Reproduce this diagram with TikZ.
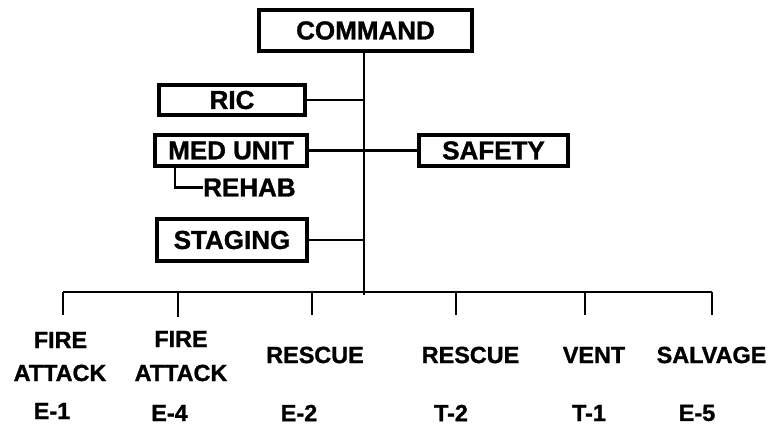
\documentclass[tikz,border=0pt]{standalone}
\usepackage{fontspec}
\setmainfont{Liberation Sans}
\newfontfamily\heavyface[FakeBold=1.2]{Liberation Sans Bold}
\begin{document}
\begin{tikzpicture}[x=1pt,y=-1pt,
  unitbox/.style={draw,line width=4pt,inner sep=0pt,
    font=\heavyface\fontsize{26}{30}\selectfont},
  link/.style={line width=2.4pt},
  crew/.style={inner sep=0pt,font=\heavyface\fontsize{23.4}{28}\selectfont},
  side/.style={inner sep=0pt,font=\heavyface\fontsize{26}{30}\selectfont}]
\useasboundingbox (0,0) rectangle (773,426);

% command staff boxes
\node[unitbox,minimum width=213pt,minimum height=41pt] (cmd) at (365.5,30.5) {COMMAND};
\node[unitbox,minimum width=146pt,minimum height=30pt] (ric) at (232,100) {RIC};
\node[unitbox,minimum width=152pt,minimum height=31pt] (med) at (231,150.5) {MED UNIT};
\node[unitbox,minimum width=149pt,minimum height=31pt] (safe) at (493.5,150.5) {SAFETY};
\node[unitbox,minimum width=150pt,minimum height=42pt] (stag) at (232,240) {STAGING};
\node[side,anchor=west] (rehab) at (203,187.5) {REHAB};

% trunk and branch points
\coordinate (tbot) at (364,295);
\coordinate (busL) at (63,292);
\coordinate (busR) at (712,292);
\draw[link] (cmd.south -| tbot) -- (tbot);
\draw[link] (ric.east) -- (ric.east -| tbot);
\draw[link] (med.east) -- (safe.west);
\draw[link] (stag.east) -- (stag.east -| tbot);
\coordinate (rk) at (175,187.5);
\draw[link] (med.south -| rk) -- (rk) -- (rehab.west);
\draw[link] (busL) -- (busR);

% crew assignment drops
\foreach \n/\x/\len in {a/63/23,b/178/25,c/312/23,d/456/23,e/585/23,f/712/23}{
  \coordinate (t\n) at (\x,292);
  \coordinate (u\n) at (\x,292+\len);
  \draw[link] (t\n) -- (u\n);
}

\node[crew] (fa1) at (60.5,340) {FIRE};
\node[crew] (at1) at (60,373) {ATTACK};
\node[crew] (e1) at (52,411) {E-1};
\node[crew] (fa4) at (181,339) {FIRE};
\node[crew] (at4) at (181,373) {ATTACK};
\node[crew] (e4) at (169.5,413) {E-4};
\node[crew] (rs2) at (315,355) {RESCUE};
\node[crew] (e2) at (299,413) {E-2};
\node[crew] (rst2) at (470.5,355) {RESCUE};
\node[crew] (t2) at (451,413) {T-2};
\node[crew] (vent) at (594,355) {VENT};
\node[crew] (t1) at (589,413) {T-1};
\node[crew] (salv) at (711.5,355) {SALVAGE};
\node[crew] (e5) at (697,413) {E-5};
\end{tikzpicture}
\end{document}
